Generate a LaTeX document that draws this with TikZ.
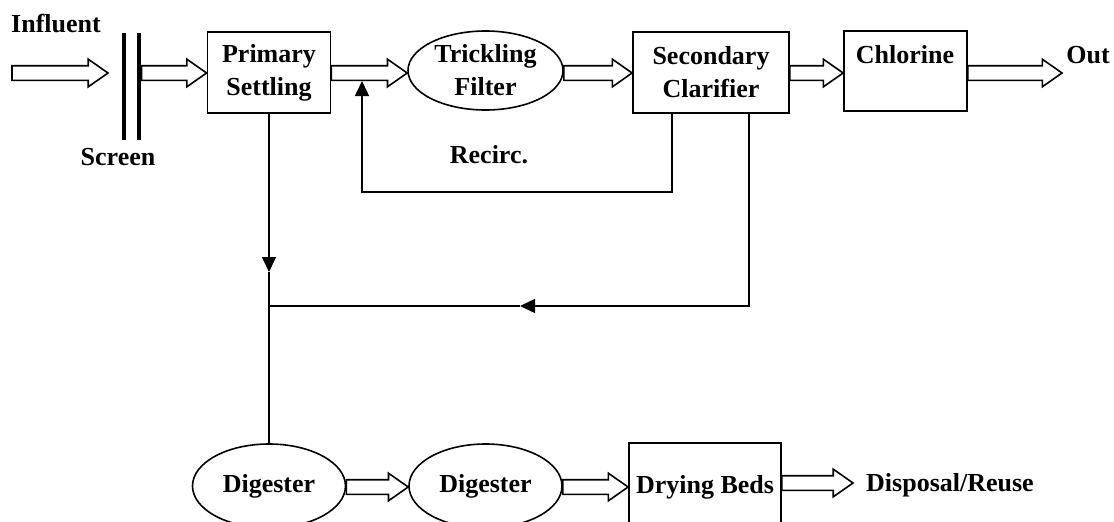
\documentclass[tikz,border=0pt]{standalone}
\usepackage{fontspec}
\setmainfont{Liberation Serif}
\usetikzlibrary{shapes.geometric,shapes.arrows,arrows.meta,calc}

% hollow flow arrow laid from one point to another (horizontal)
\newcommand{\flowarrow}[3]{%
  \path let \p1=(#2), \p2=(#3), \n1={veclen(\x2-\x1,\y2-\y1)} in
    node[flow, minimum height=\n1] (#1) at (\p1) {};}

\begin{document}
\begin{tikzpicture}[x=1pt,y=-1pt,
  txt/.style={font=\bfseries\fontsize{26}{33}\selectfont, align=center, inner sep=0pt},
  unit/.style={draw, line width=1.8pt, rectangle, inner sep=0pt, txt},
  vessel/.style={draw, line width=1.6pt, ellipse, inner sep=0pt, txt},
  flow/.style={single arrow, draw, line width=1.6pt, inner xsep=0pt, inner ysep=6.5pt,
    single arrow head extend=6.5pt, single arrow tip angle=70, minimum width=0pt,
    outer sep=0pt, anchor=tail, shape border rotate=0},
  link/.style={line width=1.5pt},
  tip/.style={-{Triangle[length=15pt,width=14pt]}},
  screenbar/.style={line width=4.5pt}]
\clip (0,0) rectangle (1114,522);

% rows of the main flow lines
\coordinate (rowA) at (0,73);
\coordinate (rowB) at (0,487);
\coordinate (rowC) at (0,483);

% labels
\node[txt] (influent) at (56,24) {Influent};
\node[txt] (screenlbl) at (118,157) {Screen};
\node[txt] (out) at (1088,55) {Out};
\node[txt] (recirc) at (489,155) {Recirc.};
\node[txt] (disp) at (950,485) {Disposal/Reuse};

% screen
\draw[screenbar] (124,33) -- (124,140);
\draw[screenbar] (139,33) -- (139,140);
\coordinate (inStart) at (12,73);
\coordinate (inEnd) at (108,73);
\coordinate (scrR) at (141.5,73);

% treatment units
\node[unit, minimum width=123pt, minimum height=81pt] (prim) at (269,72.5) {Primary\\Settling};
\node[vessel, minimum width=155pt, minimum height=79pt] (trick) at (485.5,70.5) {Trickling\\Filter};
\node[unit, minimum width=156pt, minimum height=81pt] (sec) at (711,72.5) {Secondary\\Clarifier};
\node[unit, minimum width=123pt, minimum height=80pt] (chl) at (905.5,71) {};
\node[txt] (chltext) at (905,55) {Chlorine};
\coordinate (outTip) at (1062,73);

% sludge units
\node[vessel, minimum width=153pt, minimum height=84pt] (dig1) at (269,486) {Digester};
\node[vessel, minimum width=153pt, minimum height=84pt] (dig2) at (485.5,486) {Digester};
\node[unit, minimum width=152pt, minimum height=88pt] (dry) at (705,487) {Drying Beds};
\coordinate (dispTip) at (853,483);

% main flow
\flowarrow{f1}{inStart}{inEnd}
\flowarrow{f2}{scrR}{prim.west |- rowA}
\flowarrow{f3}{prim.east |- rowA}{trick.west |- rowA}
\flowarrow{f4}{trick.east |- rowA}{sec.west |- rowA}
\flowarrow{f5}{sec.east |- rowA}{chl.west |- rowA}
\flowarrow{f6}{chl.east |- rowA}{outTip}

% sludge flow
\flowarrow{f7}{dig1.east |- rowB}{dig2.west |- rowB}
\flowarrow{f8}{dig2.east |- rowB}{dry.west |- rowB}
\flowarrow{f9}{dry.east |- rowC}{dispTip}

% recirculation
\coordinate (recA) at ($(sec.south west)+(40,0)$);
\coordinate (recB) at (362,192);
\coordinate (recTip) at (362,81);
\draw[link,tip] (recA) |- (recB) -- (recTip);

% primary sludge and secondary sludge lines
\coordinate (sludgeTip) at (269,272);
\coordinate (junction) at (269,306);
\coordinate (wasteA) at ($(sec.south east)+(-41,0)$);
\coordinate (wasteTip) at (520,306);
\draw[link,tip] (prim.south) -- (sludgeTip);
\draw[link] (sludgeTip) -- (dig1.north);
\draw[link,tip] (wasteA) |- (wasteTip);
\draw[link] (wasteTip) -- (junction);
\end{tikzpicture}
\end{document}
